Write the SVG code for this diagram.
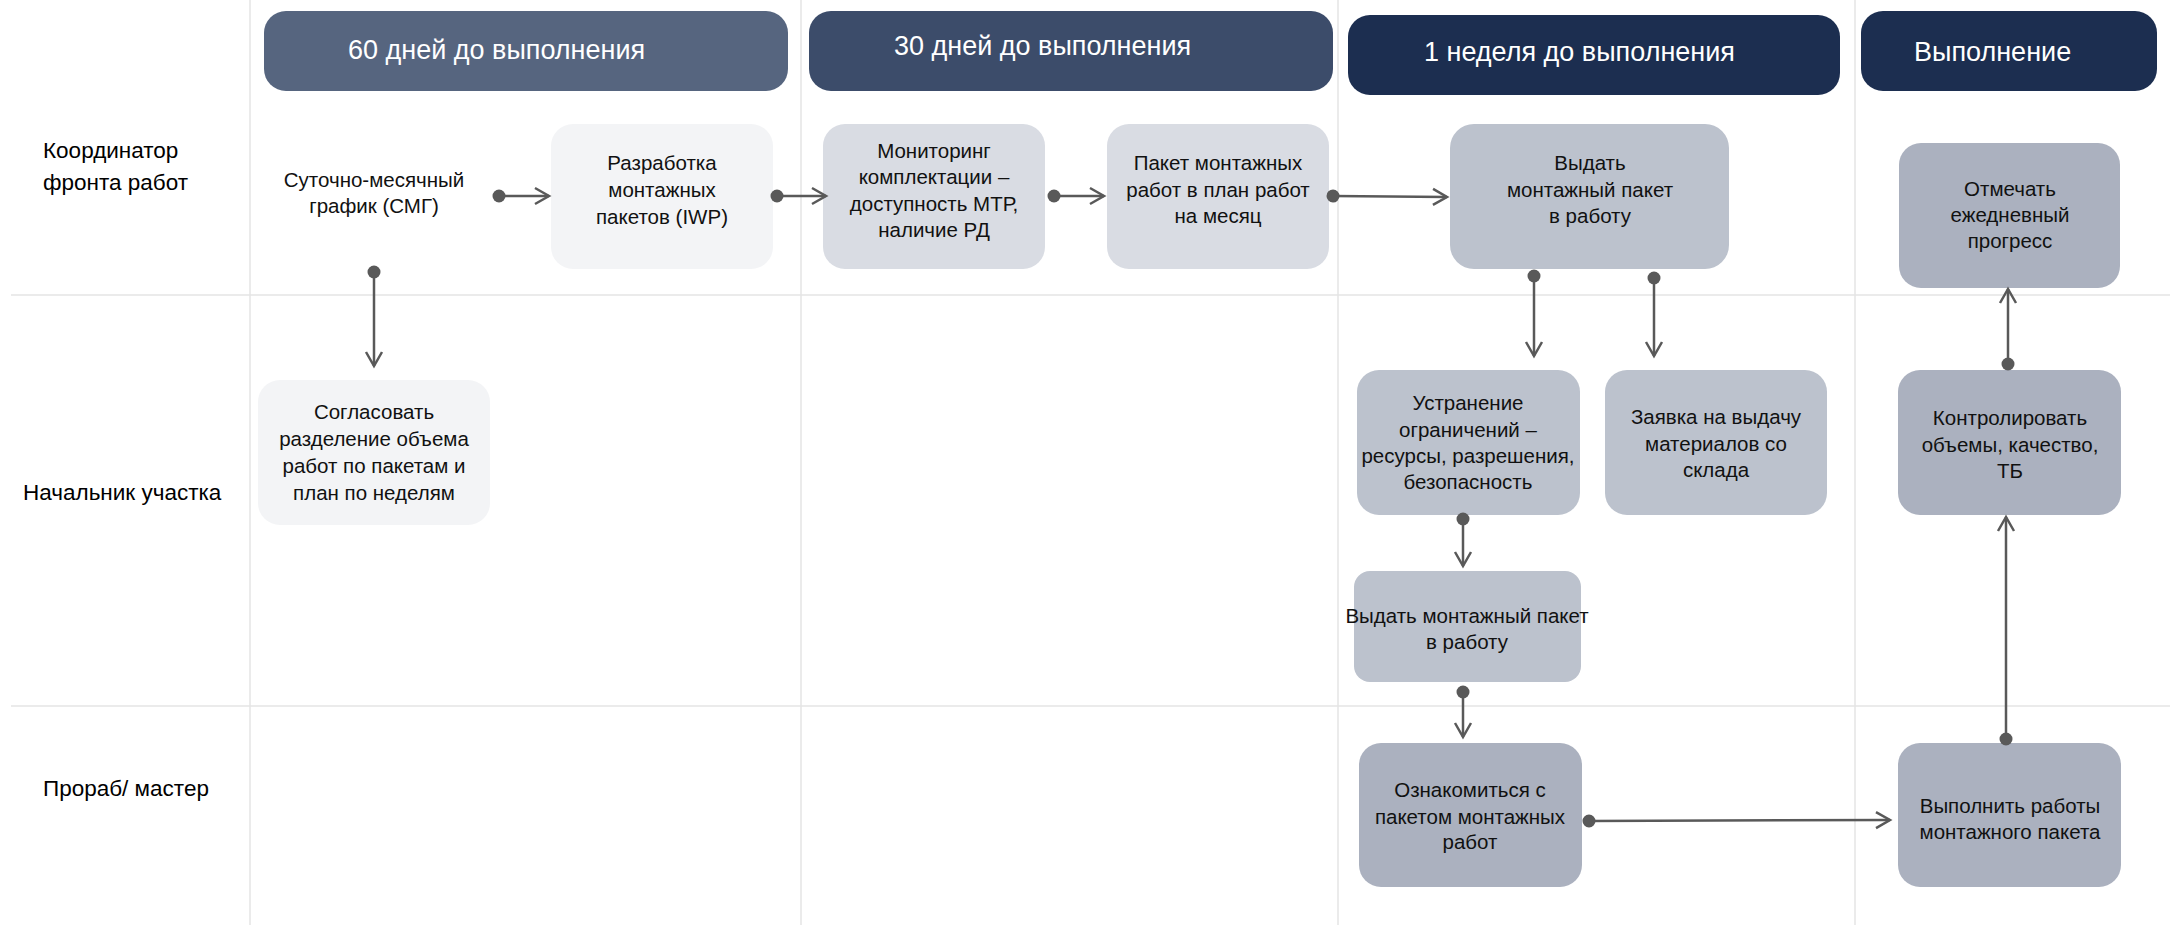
<svg xmlns="http://www.w3.org/2000/svg" width="2170" height="925" viewBox="0 0 2170 925">
<style>
.grid{stroke:#e4e4e4;stroke-width:1.5;fill:none}
.hdr{font-family:"Liberation Sans",Arial,sans-serif;font-size:27px;fill:#ffffff}
.lane{font-family:"Liberation Sans",Arial,sans-serif;font-size:22.5px;fill:#000000}
.t{font-family:"Liberation Sans",Arial,sans-serif;font-size:20.5px;fill:#111111;text-anchor:middle}
.c1{fill:#f3f4f6}
.c2{fill:#d9dce3}
.c3{fill:#bcc2cd}
.c4{fill:#abb1bf}
.edge{stroke:#595959;stroke-width:2.5;fill:none;marker-start:url(#dot);marker-end:url(#arr)}
</style>
<defs>
<marker id="arr" markerUnits="userSpaceOnUse" markerWidth="22" markerHeight="22" refX="17" refY="11" orient="auto" viewBox="0 0 22 22">
<path d="M3,3 L17,11 L3,19" fill="none" stroke="#595959" stroke-width="2.5"/>
</marker>
<marker id="dot" markerUnits="userSpaceOnUse" markerWidth="16" markerHeight="16" refX="8" refY="8" orient="auto" viewBox="0 0 16 16">
<circle cx="8" cy="8" r="6.5" fill="#595959"/>
</marker>
</defs>
<rect width="2170" height="925" fill="#ffffff"/>
<g id="grid">
<line class="grid" x1="250" y1="0" x2="250" y2="925"/>
<line class="grid" x1="801" y1="0" x2="801" y2="925"/>
<line class="grid" x1="1338" y1="0" x2="1338" y2="925"/>
<line class="grid" x1="1855" y1="0" x2="1855" y2="925"/>
<line class="grid" x1="11" y1="295" x2="2170" y2="295" stroke-width="2"/>
<line class="grid" x1="11" y1="706" x2="2170" y2="706" stroke-width="2"/>
</g>
<g id="headers">
<g id="h60"><rect x="264" y="11" width="524" height="80" rx="22" fill="#56657f"/><text class="hdr" x="348" y="59">60 дней до выполнения</text></g>
<g id="h30"><rect x="809" y="11" width="524" height="80" rx="22" fill="#3c4c6a"/><text class="hdr" x="894" y="55">30 дней до выполнения</text></g>
<g id="h1w"><rect x="1348" y="15" width="492" height="80" rx="22" fill="#1c2e50"/><text class="hdr" x="1424" y="61">1 неделя до выполнения</text></g>
<g id="hexec"><rect x="1861" y="11" width="296" height="80" rx="22" fill="#1c2e50"/><text class="hdr" x="1914" y="61">Выполнение</text></g>
</g>
<g id="lanes">
<text class="lane" x="43" y="158">Координатор</text>
<text class="lane" x="43" y="190">фронта работ</text>
<text class="lane" x="23" y="500">Начальник участка</text>
<text class="lane" x="43" y="796">Прораб/ мастер</text>
</g>
<g id="nodeA"><text class="t" x="374" y="187">Суточно-месячный</text><text class="t" x="374" y="213">график (СМГ)</text></g>
<g id="nodeB"><rect class="c1" x="551" y="124" width="222" height="145" rx="22"/><text class="t" x="662" y="170">Разработка</text><text class="t" x="662" y="197">монтажных</text><text class="t" x="662" y="224">пакетов (IWP)</text></g>
<g id="nodeC"><rect class="c2" x="823" y="124" width="222" height="145" rx="22"/><text class="t" x="934" y="158">Мониторинг</text><text class="t" x="934" y="184">комплектации –</text><text class="t" x="934" y="211">доступность МТР,</text><text class="t" x="934" y="237">наличие РД</text></g>
<g id="nodeD"><rect class="c2" x="1107" y="124" width="222" height="145" rx="22"/><text class="t" x="1218" y="170">Пакет монтажных</text><text class="t" x="1218" y="197">работ в план работ</text><text class="t" x="1218" y="223">на месяц</text></g>
<g id="nodeE"><rect class="c3" x="1450" y="124" width="279" height="145" rx="24"/><text class="t" x="1590" y="170">Выдать</text><text class="t" x="1590" y="197">монтажный пакет</text><text class="t" x="1590" y="223">в работу</text></g>
<g id="nodeF"><rect class="c4" x="1899" y="143" width="221" height="145" rx="22"/><text class="t" x="2010" y="196">Отмечать</text><text class="t" x="2010" y="222">ежедневный</text><text class="t" x="2010" y="248">прогресс</text></g>
<g id="nodeG"><rect class="c1" x="258" y="380" width="232" height="145" rx="22"/><text class="t" x="374" y="419">Согласовать</text><text class="t" x="374" y="446">разделение объема</text><text class="t" x="374" y="473">работ по пакетам и</text><text class="t" x="374" y="500">план по неделям</text></g>
<g id="nodeH"><rect class="c3" x="1357" y="370" width="223" height="145" rx="22"/><text class="t" x="1468" y="410">Устранение</text><text class="t" x="1468" y="437">ограничений –</text><text class="t" x="1468" y="463">ресурсы, разрешения,</text><text class="t" x="1468" y="489">безопасность</text></g>
<g id="nodeI"><rect class="c3" x="1605" y="370" width="222" height="145" rx="22"/><text class="t" x="1716" y="424">Заявка на выдачу</text><text class="t" x="1716" y="451">материалов со</text><text class="t" x="1716" y="477">склада</text></g>
<g id="nodeJ"><rect class="c4" x="1898" y="370" width="223" height="145" rx="22"/><text class="t" x="2010" y="425">Контролировать</text><text class="t" x="2010" y="452">объемы, качество,</text><text class="t" x="2010" y="478">ТБ</text></g>
<g id="nodeK"><rect class="c3" x="1354" y="571" width="227" height="111" rx="16"/><text class="t" x="1467" y="623">Выдать монтажный пакет</text><text class="t" x="1467" y="649">в работу</text></g>
<g id="nodeL"><rect class="c4" x="1359" y="743" width="223" height="144" rx="22"/><text class="t" x="1470" y="797">Ознакомиться с</text><text class="t" x="1470" y="824">пакетом монтажных</text><text class="t" x="1470" y="849">работ</text></g>
<g id="nodeM"><rect class="c4" x="1898" y="743" width="223" height="144" rx="22"/><text class="t" x="2010" y="813">Выполнить работы</text><text class="t" x="2010" y="839">монтажного пакета</text></g>
<g id="connectors">
<path class="edge" d="M499,196 L549,196"/>
<path class="edge" d="M777,196 L826,196"/>
<path class="edge" d="M1054,196 L1104,196"/>
<path class="edge" d="M1333,196 L1447,197"/>
<path class="edge" d="M374,272 L374,366"/>
<path class="edge" d="M1534,276 L1534,356"/>
<path class="edge" d="M1654,278 L1654,356"/>
<path class="edge" d="M1463,519 L1463,566"/>
<path class="edge" d="M1463,692 L1463,737"/>
<path class="edge" d="M1589,821 L1890,820"/>
<path class="edge" d="M2006,739 L2006,517"/>
<path class="edge" d="M2008,364 L2008,289"/>
</g>
</svg>
